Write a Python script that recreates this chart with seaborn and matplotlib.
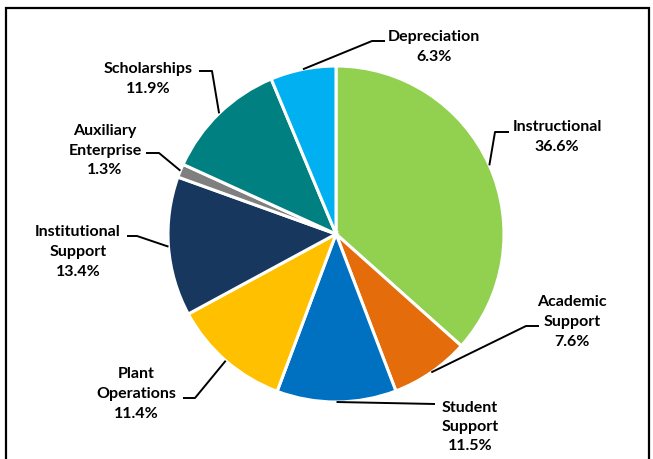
import matplotlib
matplotlib.use("Agg")
import matplotlib.pyplot as plt
import seaborn as sns
import numpy as np

categories = ["Instructional", "Academic\nSupport", "Student\nSupport", "Plant\nOperations",
              "Institutional\nSupport", "Auxiliary\nEnterprise", "Scholarships", "Depreciation"]
values = [36.6, 7.6, 11.5, 11.4, 13.4, 1.3, 11.9, 6.3]
colors = ["#92D050", "#E46C0A", "#0070C0", "#FFC000", "#17375E", "#7F7F7F", "#008080", "#00B0F0"]

sns.set_theme(style="white")
plt.rcParams['font.family'] = ['Lato', 'DejaVu Sans']

W, H = 653, 459
fig = plt.figure(figsize=(W / 100, H / 100), dpi=100)
ax = fig.add_axes([0, 0, 1, 1])
ax.axis('off')

def Y(y):
    return H - y

cx, cy, R = 336, 234, 168
wedges, _ = ax.pie(values, colors=colors, startangle=90, counterclock=False,
                   center=(cx, Y(cy)), radius=R,
                   wedgeprops=dict(edgecolor="white", linewidth=2.2))
ax.set_xlim(0, W)
ax.set_ylim(0, H)
ax.set_aspect('equal')

# layout: text centre (px) and leader elbow points (px)
text_pos = [(557, 137), (572, 322), (470, 427), (136, 394), (78, 252), (105, 151), (148, 79), (434, 47)]
elbows = [[(495, 132), (509, 132)],
          [(526, 326), (539, 326)],
          [(435, 404)],
          [(195, 398), (183, 398)],
          [(137, 236), (127, 236)],
          [(159, 153), (146, 153)],
          [(212, 71), (199, 71)],
          [(372, 41), (385, 41)]]

for w, lab, v, (tx, ty), el in zip(wedges, categories, values, text_pos, elbows):
    mid = np.deg2rad((w.theta1 + w.theta2) / 2)
    sx, sy = cx + R * np.cos(mid), Y(cy) + R * np.sin(mid)
    xs = [sx] + [p[0] for p in el]
    ys = [sy] + [Y(p[1]) for p in el]
    ax.plot(xs, ys, color="black", lw=1.4, solid_capstyle="butt")
    ax.text(tx, Y(ty), f"{lab}\n{v:.1f}%", ha="center", va="center",
            fontsize=11.5, fontweight="bold", color="black", linespacing=1.5)

# frame
ax.plot([6, 6, 649, 649], [Y(470), Y(7.5), Y(7.5), Y(470)], color="black", lw=1.6,
        solid_joinstyle="miter", clip_on=False)

fig.savefig("out.png", dpi=100)
